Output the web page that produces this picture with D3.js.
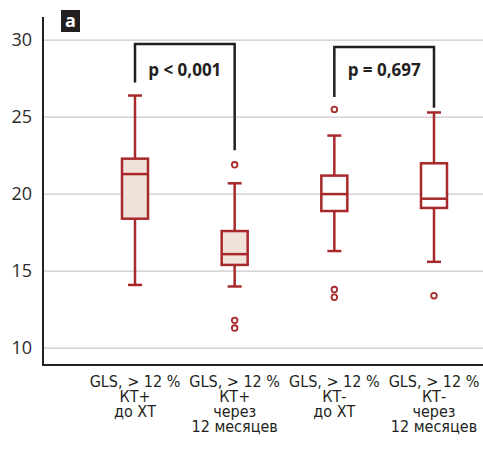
<!DOCTYPE html>
<html>
<head>
<meta charset="utf-8">
<script src="https://cdn.jsdelivr.net/npm/d3@7"></script>
<style>
  body { margin: 0; background: #fff; }
  .tick text { font-family: "Open Sans", sans-serif; font-size: 18px; fill: #2b2b2b; }
  .xlab { font-family: "Liberation Sans Narrow", "DejaVu Sans Condensed", sans-serif; font-size: 16px; fill: #231f20; }
</style>
</head>
<body>
<div id="chart"></div>
<script>
// group labels (one line per entry)
var labels = [
  ["GLS, > 12 %", "КТ+", "до ХТ"],
  ["GLS, > 12 %", "КТ+", "через", "12 месяцев"],
  ["GLS, > 12 %", "КТ-", "до ХТ"],
  ["GLS, > 12 %", "КТ-", "через", "12 месяцев"]
];
var groups = ["KT+", "KT+", "KT-", "KT-"];

var whiskerLow  = [14.1, 14.0, 16.3, 15.6];
var q1          = [18.4, 15.4, 18.9, 19.1];
var median      = [21.3, 16.1, 20.0, 19.7];
var q3          = [22.3, 17.6, 21.2, 22.0];
var whiskerHigh = [26.4, 20.7, 23.8, 25.3];
var outliers    = [[], [21.9, 11.8, 11.3], [25.5, 13.8, 13.3], [13.4]];

var yTicks = [10, 15, 20, 25, 30];

// significance brackets: from group i to group j, top and leg ends in data units
var brackets = [
  {from: 0, to: 1, top: 29.75, leftEnd: 27.25, rightEnd: 22.85, text: "p < 0,001"},
  {from: 2, to: 3, top: 29.55, leftEnd: 26.3, rightEnd: 25.6, text: "p = 0,697"}
];

var width = 483, height = 457;
var red = "#a8292b", fillKT = "#f2e3da";

var svg = d3.select("#chart").append("svg")
    .attr("width", width)
    .attr("height", height);

var x = d3.scalePoint()
    .domain(d3.range(labels.length))
    .range([135, 434]);

var y = d3.scaleLinear()
    .domain([8.9, 31.5])
    .range([365, 17]);

// gridlines
svg.append("g").selectAll("line")
    .data(yTicks)
  .enter().append("line")
    .attr("x1", 44).attr("x2", width)
    .attr("y1", function(d) { return y(d); })
    .attr("y2", function(d) { return y(d); })
    .style("stroke", "#c9c9cc")
    .style("stroke-width", 1.2);

var yAxis = d3.axisLeft(y)
    .tickValues(yTicks)
    .tickSize(0)
    .tickPadding(11);

svg.append("g")
    .attr("class", "y axis")
    .attr("transform", "translate(43,0)")
    .call(yAxis)
    .select(".domain").remove();

// axis frame
svg.append("line")
    .attr("x1", 43).attr("x2", 43)
    .attr("y1", 17).attr("y2", 366)
    .style("stroke", "#231f20").style("stroke-width", 2);
svg.append("line")
    .attr("x1", 42).attr("x2", width)
    .attr("y1", 365).attr("y2", 365)
    .style("stroke", "#231f20").style("stroke-width", 2);

// panel tag
svg.append("rect")
    .attr("x", 61).attr("y", 10).attr("width", 19).attr("height", 22)
    .style("fill", "#231f20");
svg.append("text")
    .attr("x", 70.5).attr("y", 27)
    .attr("text-anchor", "middle")
    .style("font-family", "Open Sans, sans-serif")
    .style("font-weight", "bold")
    .style("font-size", "18px")
    .style("fill", "#fff")
    .text("a");

var boxW = 26, capW = 14;
var box = svg.append("g").selectAll("g")
    .data(labels.map(function(l, i) { return i; }))
  .enter().append("g");

// whiskers
box.append("line")
    .attr("x1", function(i) { return x(i); })
    .attr("x2", function(i) { return x(i); })
    .attr("y1", function(i) { return y(whiskerHigh[i]); })
    .attr("y2", function(i) { return y(q3[i]); })
    .style("stroke", red).style("stroke-width", 2.5);
box.append("line")
    .attr("x1", function(i) { return x(i); })
    .attr("x2", function(i) { return x(i); })
    .attr("y1", function(i) { return y(q1[i]); })
    .attr("y2", function(i) { return y(whiskerLow[i]); })
    .style("stroke", red).style("stroke-width", 2.5);
[whiskerHigh, whiskerLow].forEach(function(arr) {
  box.append("line")
      .attr("x1", function(i) { return x(i) - capW / 2; })
      .attr("x2", function(i) { return x(i) + capW / 2; })
      .attr("y1", function(i) { return y(arr[i]); })
      .attr("y2", function(i) { return y(arr[i]); })
      .style("stroke", red).style("stroke-width", 2.5);
});

box.append("rect")
    .attr("x", function(i) { return x(i) - boxW / 2; })
    .attr("width", boxW)
    .attr("y", function(i) { return y(q3[i]); })
    .attr("height", function(i) { return y(q1[i]) - y(q3[i]); })
    .style("fill", function(i) { return groups[i] === "KT+" ? fillKT : "#fff"; })
    .style("stroke", red).style("stroke-width", 2.5);

box.append("line")
    .attr("x1", function(i) { return x(i) - boxW / 2; })
    .attr("x2", function(i) { return x(i) + boxW / 2; })
    .attr("y1", function(i) { return y(median[i]); })
    .attr("y2", function(i) { return y(median[i]); })
    .style("stroke", red).style("stroke-width", 2.5);

box.selectAll("circle")
    .data(function(i) { return outliers[i].map(function(v) { return {i: i, v: v}; }); })
  .enter().append("circle")
    .attr("cx", function(d) { return x(d.i); })
    .attr("cy", function(d) { return y(d.v); })
    .attr("r", 2.8)
    .style("fill", "#fff")
    .style("stroke", red).style("stroke-width", 1.8);

// brackets
var br = svg.append("g").selectAll("g")
    .data(brackets)
  .enter().append("g");

br.append("path")
    .attr("d", function(d) {
      return "M" + x(d.from) + "," + y(d.leftEnd) +
             "V" + y(d.top) + "H" + x(d.to) + "V" + y(d.rightEnd);
    })
    .style("fill", "none")
    .style("stroke", "#231f20")
    .style("stroke-width", 2.5);

br.append("text")
    .attr("x", function(d) { return (x(d.from) + x(d.to)) / 2; })
    .attr("y", 76)
    .attr("text-anchor", "middle")
    .style("font-family", "Open Sans, sans-serif")
    .style("font-weight", "bold")
    .style("font-size", "17px")
    .style("fill", "#231f20")
    .text(function(d) { return d.text; });

// category labels
var xl = svg.append("g").selectAll("text")
    .data(labels)
  .enter().append("text")
    .attr("class", "xlab")
    .attr("text-anchor", "middle")
    .attr("x", function(d, i) { return x(i); })
    .attr("y", 387);

xl.selectAll("tspan")
    .data(function(d, i) { return d.map(function(s) { return {s: s, i: i}; }); })
  .enter().append("tspan")
    .attr("x", function(d) { return x(d.i); })
    .attr("dy", function(d, k) { return k === 0 ? 0 : 15; })
    .text(function(d) { return d.s; });
</script>
</body>
</html>
